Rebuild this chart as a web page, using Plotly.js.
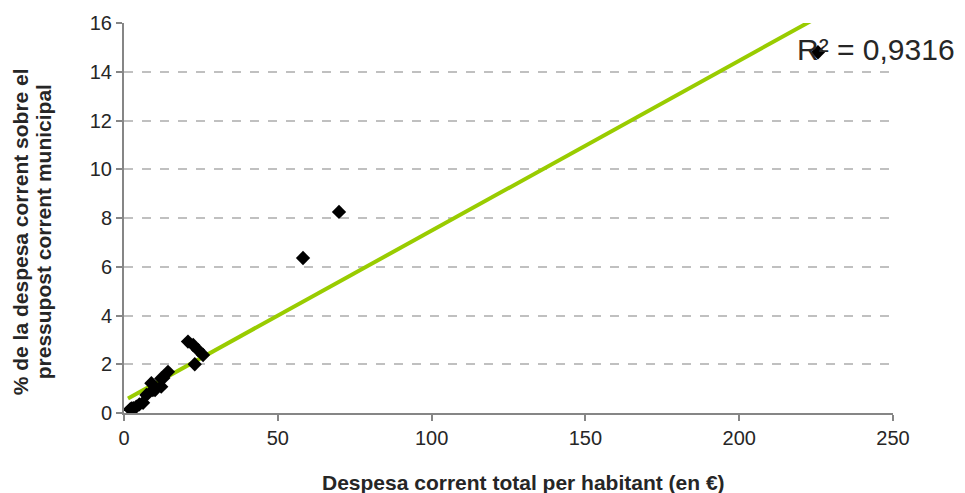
<!DOCTYPE html>
<html>
<head>
<meta charset="utf-8">
<script src="https://cdn.plot.ly/plotly-3.0.1.min.js"></script>
<style>html,body{margin:0;padding:0;background:#fff;}#chart{width:965px;height:493px;}</style>
</head>
<body>
<div id="chart"></div>
<script>
// Data
const despesaHabitant = [225.6, 69.9, 58.2, 20.8, 22.5, 24.1, 25.7, 23.0, 14.3, 12.8, 12.1, 12.1, 8.9, 9.4, 10.1, 7.3, 6.2, 4.0, 2.4, 2.0, 3.0, 5.0];
const percentPressupost = [14.8, 8.25, 6.36, 2.93, 2.79, 2.58, 2.38, 2.0, 1.69, 1.44, 1.42, 1.08, 1.22, 0.94, 0.94, 0.74, 0.42, 0.26, 0.19, 0.15, 0.2, 0.35];
// Linear trendline endpoints as drawn (Excel trendline)
const trendX = [1.3, 225.6];
const trendY = [0.6, 16.24];
const r2Label = "R² = 0,9316";
const xTitle = "Despesa corrent total per habitant (en €)";
const yTitleLines = ["% de la despesa corrent sobre el", "pressupost corrent municipal"];
const xTicks = [0, 50, 100, 150, 200, 250];
const yTicks = [0, 2, 4, 6, 8, 10, 12, 14, 16];

const font = "Liberation Sans, Arial, sans-serif";
const txt = "#262626";

const traces = [
  {
    x: trendX, y: trendY, type: "scatter", mode: "lines",
    line: {color: "#99cc00", width: 4}, hoverinfo: "skip"
  },
  {
    x: despesaHabitant, y: percentPressupost, type: "scatter", mode: "markers",
    marker: {symbol: "diamond", size: 11, color: "#000000"}
  }
];

const layout = {
  width: 965, height: 493,
  margin: {l: 124, r: 72, t: 23, b: 80},
  paper_bgcolor: "#ffffff", plot_bgcolor: "#ffffff",
  showlegend: false,
  font: {family: font, size: 20, color: txt},
  xaxis: {
    range: [0, 250], tickvals: xTicks, ticktext: xTicks.map(String),
    showgrid: false, zeroline: false,
    showline: true, linecolor: "#868686", linewidth: 2,
    ticks: "outside", ticklen: 6, tickcolor: "#868686", tickwidth: 2,
    tickfont: {family: font, size: 20, color: txt}
  },
  yaxis: {
    range: [0, 16], tickvals: yTicks, ticktext: yTicks.map(String),
    showgrid: true, gridcolor: "#c0c0c0", gridwidth: 2, griddash: "dash",
    zeroline: false,
    showline: true, linecolor: "#868686", linewidth: 2,
    ticks: "outside", ticklen: 6, tickcolor: "#868686", tickwidth: 2,
    tickfont: {family: font, size: 20, color: txt}
  },
  annotations: [
    {
      xref: "paper", yref: "paper", x: 0.873, y: 0.933, xanchor: "left", yanchor: "middle",
      text: r2Label, showarrow: false,
      font: {family: font, size: 30, color: txt}
    },
    {
      xref: "paper", yref: "paper", x: 0.519, y: -0.179, xanchor: "center", yanchor: "middle",
      text: "<b>" + xTitle + "</b>", showarrow: false,
      font: {family: font, size: 21, color: txt}
    },
    {
      xref: "paper", yref: "paper", x: -0.135, y: 0.464, xanchor: "center", yanchor: "middle",
      text: "<b>" + yTitleLines[0] + "</b>", showarrow: false, textangle: -90,
      font: {family: font, size: 21, color: txt}
    },
    {
      xref: "paper", yref: "paper", x: -0.105, y: 0.464, xanchor: "center", yanchor: "middle",
      text: "<b>" + yTitleLines[1] + "</b>", showarrow: false, textangle: -90,
      font: {family: font, size: 21, color: txt}
    }
  ]
};

Plotly.newPlot("chart", traces, layout, {displayModeBar: false, staticPlot: true});
</script>
</body>
</html>
